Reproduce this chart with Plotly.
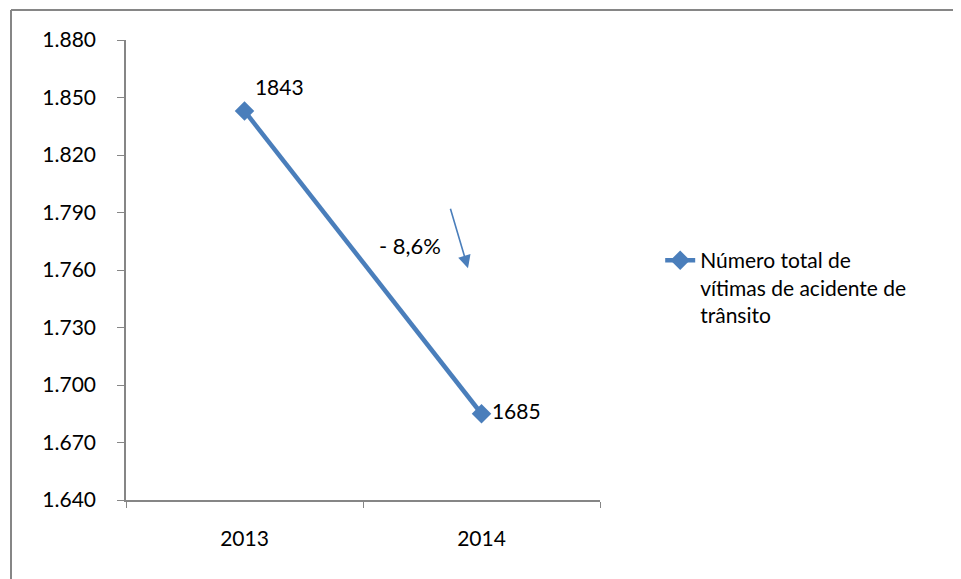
import plotly.graph_objects as go

# ---------------------------------------------------
# Data
# ---------------------------------------------------
anos = ["2013", "2014"]
vitimas = [1843, 1685]
rotulos = ["1843", "1685"]
serie_nome = "Número total de<br>vítimas de acidente de<br>trânsito"
variacao = "- 8,6%"

y_ticks = [1640, 1670, 1700, 1730, 1760, 1790, 1820, 1850, 1880]

AZUL = "#4A7EBB"
CINZA = "#868686"
FONTE = "Lato, 'Open Sans', sans-serif"

fig = go.Figure()

fig.add_trace(
    go.Scatter(
        x=anos,
        y=vitimas,
        mode="lines+markers+text",
        name=serie_nome,
        line=dict(color=AZUL, width=4.5),
        marker=dict(symbol="diamond", size=15, color=AZUL),
        text=rotulos,
        textposition=["top right", "middle right"],
        textfont=dict(size=21, color="#000000"),
        cliponaxis=False,
    )
)

# texto de variação e seta
fig.add_annotation(
    x=0.599, y=0.554, xref="paper", yref="paper",
    text=variacao, showarrow=False,
    font=dict(size=22, color="#000000"),
)
fig.add_annotation(
    x=0.7215, y=0.504, xref="paper", yref="paper",
    ax=-18, ay=-61, text="", showarrow=True,
    arrowhead=2, arrowsize=1.6, arrowwidth=1.6, arrowcolor=AZUL,
)

# moldura do gráfico (topo e esquerda)
fig.add_shape(type="line", xref="paper", yref="paper",
              x0=-0.2426, x1=1.77, y0=1.0652, y1=1.0652,
              line=dict(color=CINZA, width=2))
fig.add_shape(type="line", xref="paper", yref="paper",
              x0=-0.2426, x1=-0.2426, y0=-0.2, y1=1.0652,
              line=dict(color=CINZA, width=2))

fig.update_layout(
    width=961,
    height=579,
    margin=dict(l=118, r=369, t=32, b=87),
    paper_bgcolor="white",
    plot_bgcolor="white",
    separators=",.",
    font=dict(family=FONTE, size=21, color="#000000"),
    showlegend=True,
    legend=dict(
        x=1.127, y=0.565, xanchor="left", yanchor="top",
        valign="top",
        font=dict(size=21),
        itemwidth=30,
    ),
    xaxis=dict(
        type="category",
        range=[-0.5, 1.5],
        showgrid=False,
        showline=True, linecolor=CINZA, linewidth=1.5,
        ticks="outside", ticklen=6, tickcolor=CINZA,
        tickson="boundaries",
        ticklabelstandoff=19,
        zeroline=False,
    ),
    yaxis=dict(
        range=[1640, 1880],
        tickvals=y_ticks,
        tickformat=",d",
        showgrid=False,
        showline=True, linecolor=CINZA, linewidth=1.5,
        ticks="outside", ticklen=7, tickcolor=CINZA,
        ticklabelstandoff=17,
        zeroline=False,
    ),
)

fig.write_html("out.html")
